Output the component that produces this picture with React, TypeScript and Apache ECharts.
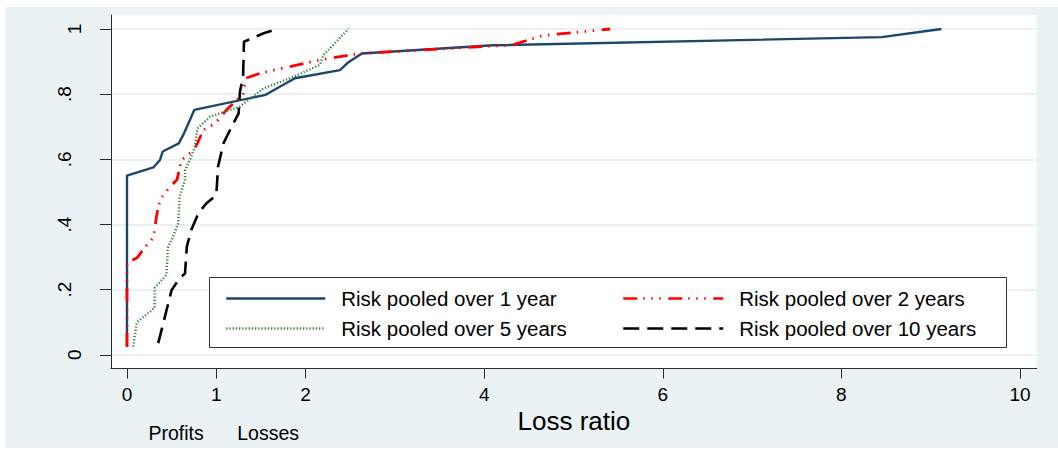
import React, { useEffect, useRef } from "react";
import * as echarts from "echarts";

// Cumulative share of farms (y) by loss ratio (x) for each pooling horizon
const pooled1Year: [number, number][] = [
  [0, 0.025], [0, 0.55], [0.295, 0.575], [0.37, 0.598], [0.4, 0.624], [0.58, 0.649],
  [0.63, 0.675], [0.705, 0.721], [0.754, 0.752], [1.553, 0.798], [1.88, 0.849],
  [2.385, 0.874], [2.48, 0.898], [2.63, 0.925], [4.1, 0.95], [8.45, 0.975], [9.12, 1.0],
];
const pooled2Years: [number, number][] = [
  [0, 0.025], [0, 0.283], [0.11, 0.297], [0.23, 0.34], [0.295, 0.36], [0.33, 0.424],
  [0.35, 0.455], [0.38, 0.48], [0.48, 0.516], [0.56, 0.537], [0.61, 0.598], [0.75, 0.629],
  [0.79, 0.65], [0.855, 0.69], [0.985, 0.71], [1.115, 0.752], [1.23, 0.782], [1.3, 0.8],
  [1.33, 0.849], [1.5, 0.865], [2.16, 0.905], [2.61, 0.925], [4.31, 0.951], [4.66, 0.98],
  [5.41, 1.0],
];
const pooled5Years: [number, number][] = [
  [0.07, 0.025], [0.11, 0.1], [0.26, 0.133], [0.31, 0.145], [0.31, 0.205], [0.44, 0.245],
  [0.46, 0.332], [0.5, 0.353], [0.575, 0.404], [0.59, 0.486], [0.65, 0.537], [0.65, 0.567],
  [0.705, 0.598], [0.76, 0.639], [0.79, 0.695], [0.93, 0.731], [1.265, 0.762], [1.53, 0.818],
  [1.86, 0.853], [2.16, 0.89], [2.2, 0.92], [2.48, 1.0],
];
const pooled10Years: [number, number][] = [
  [0.35, 0.036], [0.5, 0.199], [0.59, 0.235], [0.65, 0.25], [0.67, 0.332], [0.72, 0.383],
  [0.8, 0.435], [0.89, 0.465], [1.0, 0.49], [1.02, 0.578], [1.08, 0.649], [1.19, 0.71],
  [1.25, 0.741], [1.265, 0.808], [1.3, 0.853], [1.31, 0.961], [1.53, 0.987], [1.68, 1.0],
];

const seriesNames = [
  "Risk pooled over 1 year",
  "Risk pooled over 2 years",
  "Risk pooled over 5 years",
  "Risk pooled over 10 years",
];

const xTicks = [0, 1, 2, 4, 6, 8, 10];
const yTicks = [0, 0.2, 0.4, 0.6, 0.8, 1];
const yTickLabels = ["0", ".2", ".4", ".6", ".8", "1"];
const noteTicks = [0.55, 1.58];
const noteLabels = ["Profits", "Losses"];

const FONT = "'Liberation Sans', Arial, Helvetica, sans-serif";
const AXIS_COLOR = "#2a2a2a";
const X_MIN = -0.179;
const X_MAX = 10.187;
const Y_MIN = -0.042;
const Y_MAX = 1.043;

const nearestIndex = (list: number[], v: number) => {
  let best = 0;
  list.forEach((t, i) => {
    if (Math.abs(t - v) < Math.abs(list[best] - v)) best = i;
  });
  return best;
};

const legendBlock = (names: string[], left: number, itemWidth: number) => ({
  data: names,
  orient: "vertical",
  left,
  top: 288,
  padding: 0,
  itemWidth,
  itemHeight: 20,
  itemGap: 9,
  selectedMode: false,
  // line-only keys: hide the marker drawn in the middle of each key
  itemStyle: { opacity: 0 },
  lineStyle: { width: 2.5 },
  textStyle: { fontSize: 20.5, color: "#000", fontFamily: FONT, padding: [0, 0, 0, 11] },
});

const buildOption = () => ({
  animation: false,
  textStyle: { fontFamily: FONT },
  grid: {
    left: 111,
    right: 21.3,
    top: 15,
    bottom: 80.5,
    show: true,
    backgroundColor: "#ffffff",
    borderWidth: 0,
  },
  xAxis: [
    {
      type: "value",
      min: X_MIN,
      max: X_MAX,
      position: "bottom",
      name: "Loss ratio",
      nameLocation: "middle",
      nameGap: 31,
      nameTextStyle: { fontSize: 26, color: "#000", fontFamily: FONT },
      axisLine: { show: true, onZero: false, lineStyle: { color: AXIS_COLOR, width: 1 } },
      axisTick: { show: true, length: 10, customValues: xTicks, lineStyle: { color: AXIS_COLOR, width: 1 } },
      axisLabel: {
        customValues: xTicks,
        formatter: (v: number) => String(xTicks[nearestIndex(xTicks, v)]),
        fontSize: 19,
        color: "#000",
        margin: 16,
        fontFamily: FONT,
      },
      splitLine: { show: false },
    },
    {
      type: "value",
      min: X_MIN,
      max: X_MAX,
      position: "bottom",
      offset: 0,
      axisLine: { show: false },
      axisTick: { show: false },
      splitLine: { show: false },
      axisLabel: {
        customValues: noteTicks,
        formatter: (v: number) => noteLabels[nearestIndex(noteTicks, v)],
        fontSize: 19.5,
        color: "#000",
        margin: 54,
        fontFamily: FONT,
      },
    },
  ],
  yAxis: {
    type: "value",
    min: Y_MIN,
    max: Y_MAX,
    axisLine: { show: true, onZero: false, lineStyle: { color: AXIS_COLOR, width: 1 } },
    axisTick: { show: true, length: 11, customValues: yTicks, lineStyle: { color: AXIS_COLOR, width: 1 } },
    axisLabel: {
      customValues: yTicks,
      rotate: 90,
      margin: 27,
      color: "#000",
      fontSize: 19,
      fontFamily: FONT,
      formatter: (v: number) => {
        const i = nearestIndex(yTicks, v);
        const s = yTickLabels[i];
        return s.startsWith(".") ? `{d|${s}}` : `{n|${s}}`;
      },
      rich: {
        n: { fontSize: 19, color: "#000", fontFamily: FONT },
        d: { fontSize: 19, color: "#000", fontFamily: FONT, padding: [0, 0, 10, 0] },
      },
    },
    splitLine: { show: true, lineStyle: { color: "#e5edef", width: 1.6 } },
  },
  legend: [
    legendBlock([seriesNames[0], seriesNames[2]], 225, 99),
    legendBlock([seriesNames[1], seriesNames[3]], 622, 100),
  ],
  graphic: [
    {
      type: "rect",
      z: 3,
      silent: true,
      shape: { x: 209.5, y: 277.5, width: 797, height: 70 },
      style: { fill: "#ffffff", stroke: "#333333", lineWidth: 1 },
    },
  ],
  series: [
    {
      name: seriesNames[0],
      type: "line",
      data: pooled1Year,
      symbol: "none",
      showSymbol: false,
      z: 2,
      itemStyle: { color: "#1a476f" },
      lineStyle: { color: "#1a476f", width: 2.4, type: "solid" },
    },
    {
      name: seriesNames[1],
      type: "line",
      data: pooled2Years,
      symbol: "none",
      showSymbol: false,
      z: 2,
      itemStyle: { color: "#ff0000" },
      lineStyle: { color: "#ff0000", width: 2.8, type: [14, 6, 1.5, 6.5, 1.5, 6.5, 1.5, 7.5] },
    },
    {
      name: seriesNames[2],
      type: "line",
      data: pooled5Years,
      symbol: "none",
      showSymbol: false,
      z: 2,
      itemStyle: { color: "#2f7f36" },
      lineStyle: { color: "#2f7f36", width: 2.4, type: [1.2, 2] },
    },
    {
      name: seriesNames[3],
      type: "line",
      data: pooled10Years,
      symbol: "none",
      showSymbol: false,
      z: 2,
      itemStyle: { color: "#000000" },
      lineStyle: { color: "#000000", width: 2.6, type: [16, 8] },
    },
  ],
});

export default function App() {
  const ref = useRef<HTMLDivElement>(null);

  useEffect(() => {
    if (!ref.current) return;
    const chart = echarts.init(ref.current, null, { renderer: "svg" });
    chart.setOption(buildOption() as any);
    return () => chart.dispose();
  }, []);

  return (
    <div style={{ position: "absolute", left: 0, top: 0, width: 1058, height: 449, background: "#ffffff" }}>
      <div
        style={{ position: "absolute", left: 5, top: 7, width: 1053, height: 441, background: "#eaf2f3" }}
      />
      <div ref={ref} style={{ position: "absolute", left: 0, top: 0, width: 1058, height: 449 }} />
    </div>
  );
}
